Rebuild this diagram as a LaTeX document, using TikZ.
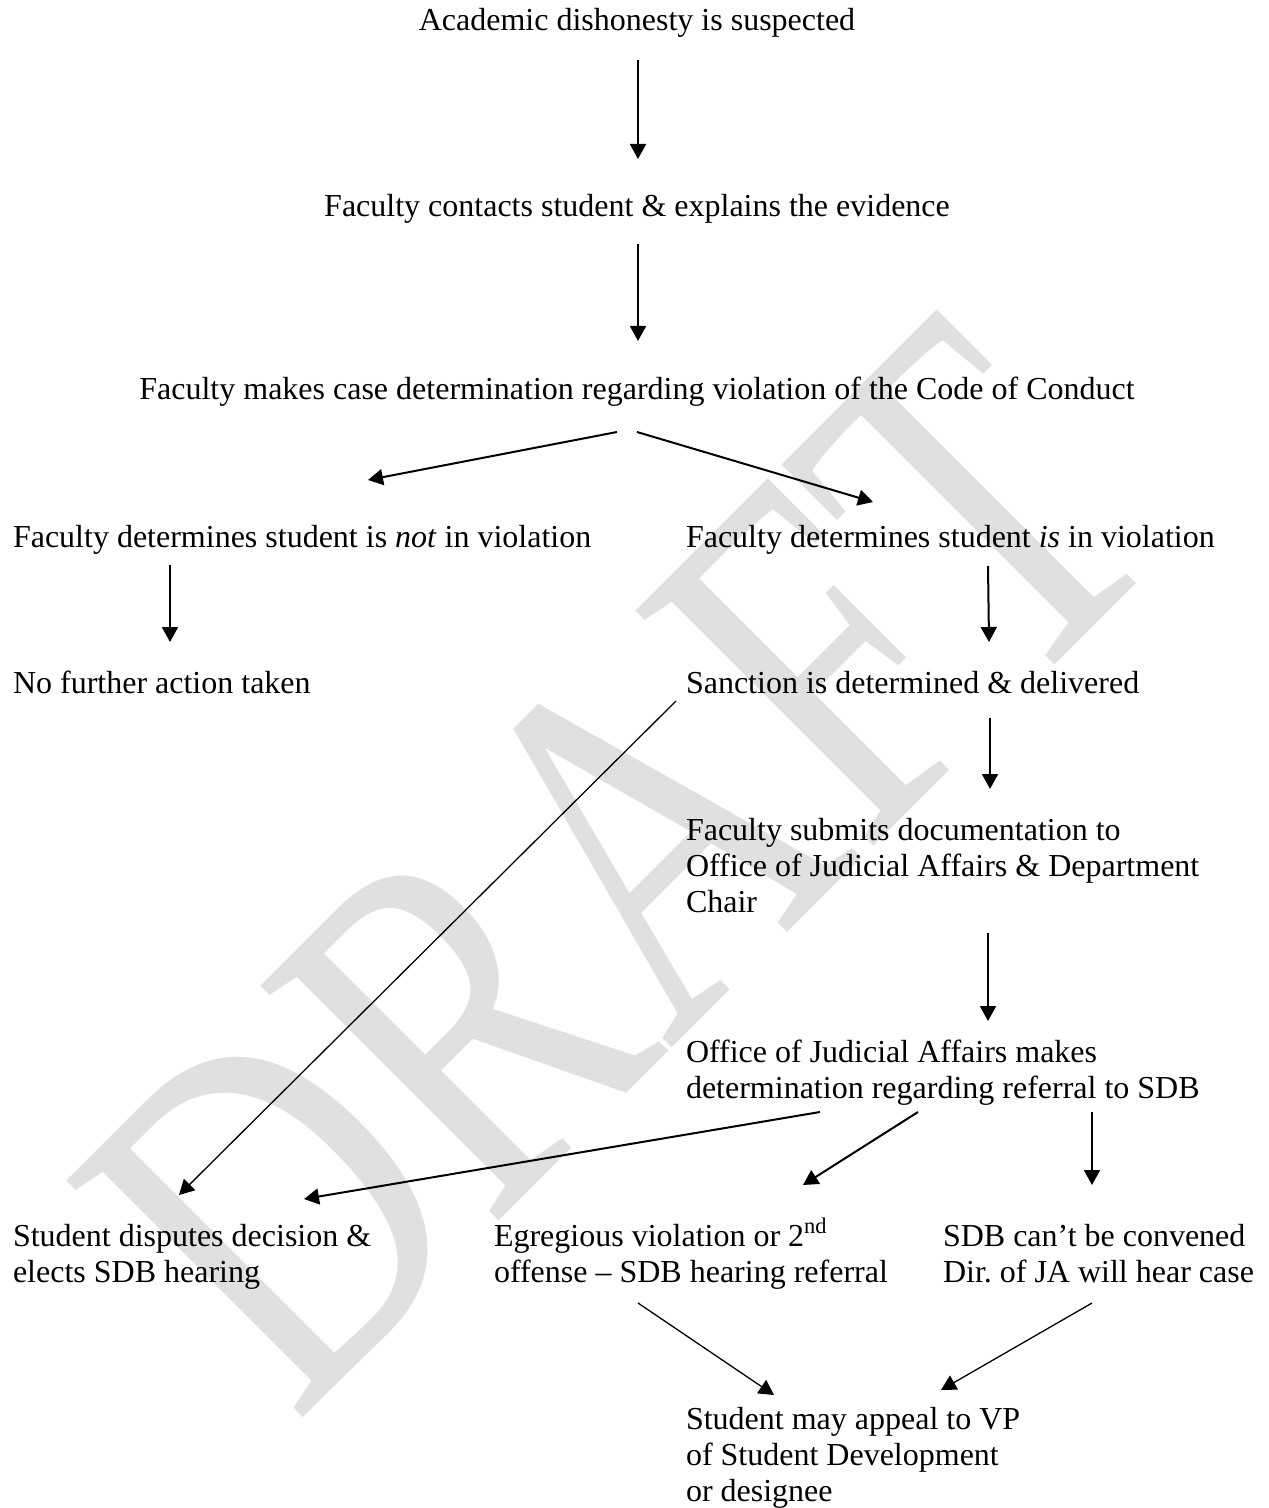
\documentclass[tikz,border=0pt]{standalone}
\usepackage{fontspec}
\setmainfont{Liberation Serif}
\newfontfamily\draftfont[FakeStretch=0.746]{Liberation Serif}
\usetikzlibrary{arrows.meta, calc}
\definecolor{draftgray}{RGB}{224,224,224}

\begin{document}
\begin{tikzpicture}[x=0.5pt, y=-0.5pt, >={Triangle[length=7.5pt, width=8pt]}]
    % Styles
    \tikzstyle{stage} = [inner sep=0pt, outer sep=0pt, align=left, font=\fontsize{16}{18}\selectfont]
    \tikzstyle{flow} = [->, line width=1pt]
    \tikzstyle{thinflow} = [->, line width=0.65pt]
    \tikzstyle{draft} = [inner sep=0pt, outer sep=0pt, text=draftgray, font=\draftfont\fontsize{255.5}{255.5}\selectfont]

    \useasboundingbox (0,0) rectangle (1268,1508);

    % Watermark
    \node (watermark) [draft, rotate=45, anchor=base west] at (295,1425) {DRAFT};

    % Nodes (multi-line nodes sit on the baseline of their last line)
    \node (suspect) [stage, anchor=base] at (637,31) {Academic dishonesty is suspected};
    \node (contact) [stage, anchor=base] at (637,217) {Faculty contacts student \& explains the evidence};
    \node (decide) [stage, anchor=base] at (637,399) {Faculty makes case determination regarding violation of the Code of Conduct};

    \node (notviol) [stage, anchor=base west] at (13,547) {Faculty determines student is \textit{not} in violation};
    \node (isviol) [stage, anchor=base west] at (686,547) {Faculty determines student \textit{is} in violation};
    \node (noaction) [stage, anchor=base west] at (13,693) {No further action taken};
    \node (sanction) [stage, anchor=base west] at (686,693) {Sanction is determined \& delivered};

    \node (submit) [stage, anchor=base west] at (686,912) {Faculty submits documentation to\\Office of Judicial Affairs \& Department\\Chair};
    \node (ojadecide) [stage, anchor=base west] at (686,1098) {Office of Judicial Affairs makes\\determination regarding referral to SDB};

    \node (dispute) [stage, anchor=base west] at (13,1282) {Student disputes decision \&\\elects SDB hearing};
    \node (egregious) [stage, anchor=base west] at (494,1282) {Egregious violation or 2\textsuperscript{nd}\\offense -- SDB hearing referral};
    \node (convene) [stage, anchor=base west] at (943,1282) {SDB can’t be convened\\Dir.\ of JA will hear case};

    \node (appeal) [stage, anchor=base west] at (686,1501) {Student may appeal to VP\\of Student Development\\or designee};

    % Connections
    \draw[flow] ($(suspect.base)+(1,29)$) -- ($(contact.base)+(1,-58)$);
    \draw[flow] ($(contact.base)+(1,27)$) -- ($(decide.base)+(1,-58)$);
    \draw[flow] ($(decide.base)+(-20,33)$) -- ($(notviol.base west)+(355,-67)$);
    \draw[flow] ($(decide.base)+(0,33)$) -- ($(isviol.base west)+(187,-45)$);
    \draw[flow] ($(notviol.base west)+(157,18)$) -- ($(noaction.base west)+(157,-51)$);
    \draw[flow] ($(isviol.base west)+(302,19)$) -- ($(sanction.base west)+(303,-51)$);
    \draw[flow] ($(sanction.base west)+(304,25)$) -- ($(submit.base west)+(304,-123)$);
    \draw[thinflow] ($(sanction.base west)+(-10,8)$) -- ($(dispute.base west)+(166,-87)$);
    \draw[flow] ($(submit.base west)+(302,21)$) -- ($(ojadecide.base west)+(302,-77)$);

    \draw[flow] ($(ojadecide.base west)+(134,14)$) -- ($(dispute.base west)+(291,-83)$);
    \draw[flow] ($(ojadecide.base west)+(232,14)$) -- ($(egregious.base west)+(309,-97)$);
    \draw[flow] ($(ojadecide.base west)+(406,14)$) -- ($(convene.base west)+(149,-97)$);

    \draw[thinflow] ($(egregious.base west)+(144,21)$) -- ($(appeal.base west)+(88,-106)$);
    \draw[thinflow] ($(convene.base west)+(149,21)$) -- ($(appeal.base west)+(255,-111)$);
\end{tikzpicture}
\end{document}
